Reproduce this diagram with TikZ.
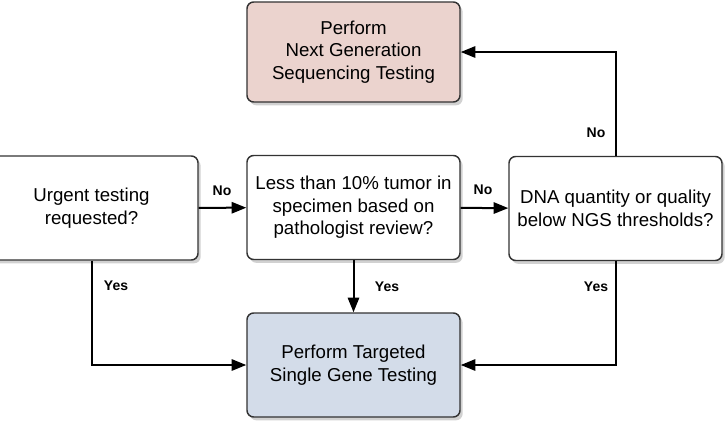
\documentclass[tikz,border=0pt]{standalone}
\usepackage{fontspec}
\setmainfont{Liberation Sans}
\usetikzlibrary{arrows.meta,shadows}

\definecolor{ngsfill}{HTML}{EBD3CE}
\definecolor{genefill}{HTML}{D3DCE9}
\definecolor{boxline}{HTML}{333333}

\tikzset{
  stepbox/.style={draw=boxline, line width=1.1pt, rounded corners=5pt, fill=white,
    minimum width=159.75pt, minimum height=78pt, align=center, inner sep=2pt,
    font=\fontsize{14}{16.8}\selectfont,
    drop shadow={shadow xshift=2pt, shadow yshift=-2.5pt, opacity=0.3, fill=black!60}},
  flow/.style={line width=1.5pt, -{Triangle[length=11pt,width=8.5pt]}},
  lbl/.style={font=\fontsize{10.5}{12}\selectfont\bfseries, inner sep=0.75pt}
}

\begin{document}
\begin{tikzpicture}[x=0.75pt,y=0.75pt,yscale=-1,xscale=1]
\useasboundingbox (0,0) rectangle (728,426);

% Boxes
\node[stepbox, fill=ngsfill, minimum height=75pt] (ngs) at (353.5,52) {Perform\\Next Generation\\Sequencing Testing};
\node[stepbox] (urgent) at (91.5,208) {Urgent testing\\requested?};
\node[stepbox] (tumor) at (353.5,207.5) {Less than 10\% tumor in\\specimen based on\\pathologist review?};
\node[stepbox] (dna) at (615.5,208.5) {DNA quantity or quality\\below NGS thresholds?};
\node[stepbox, fill=genefill] (targeted) at (353.5,365) {Perform Targeted\\Single Gene Testing};

% Connectors
\draw[flow] (urgent) -- (tumor);
\draw[flow] (tumor) -- (dna);
\draw[flow] (dna.north) |- (ngs.east);
\draw[flow] (tumor) -- (targeted);
\draw[flow] (urgent.south) |- (targeted.west);
\draw[flow] (dna.south) |- (targeted.east);

% Labels
\node[lbl] (noUrgent) at (222,191) {No};
\node[lbl] (noTumor) at (483,190) {No};
\node[lbl] (noDna) at (596,133) {No};
\node[lbl] (yesUrgent) at (116,286) {Yes};
\node[lbl] (yesTumor) at (387,287) {Yes};
\node[lbl] (yesDna) at (596,287) {Yes};

\end{tikzpicture}
\end{document}
